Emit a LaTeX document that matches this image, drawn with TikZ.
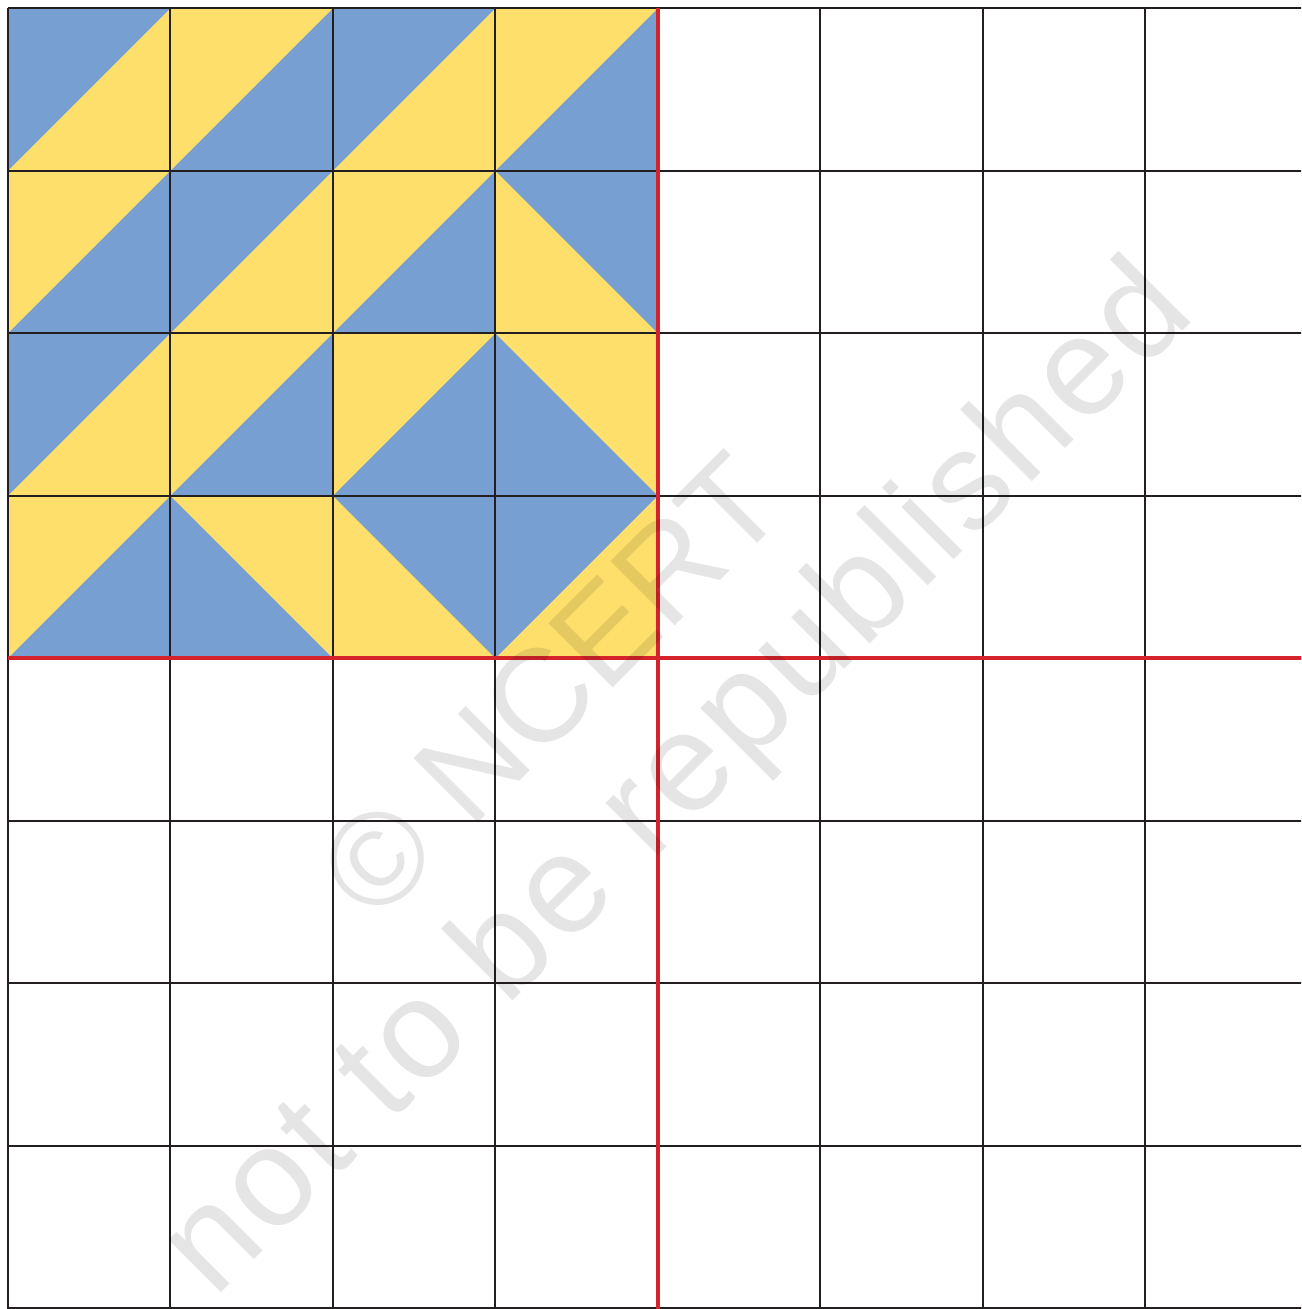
\documentclass[tikz,border=0pt]{standalone}
\usepackage{fontspec}
\newfontfamily\wmcaps{Liberation Sans}
\newfontfamily\wmlower[LetterSpace=3.5]{Liberation Sans}
\definecolor{tileblue}{HTML}{789FD2}
\definecolor{tileyellow}{HTML}{FEDF6B}
\definecolor{gridred}{HTML}{D5232B}
\definecolor{gridblack}{HTML}{231F20}
\begin{document}
\begin{tikzpicture}[x=0.5pt,y=-0.5pt,
  gridline/.style={draw=gridblack,line width=1.15pt,line cap=square},
  redline/.style={draw=gridred,line width=2.15pt},
  watermark/.style={text=black, text opacity=0.1, rotate=45, anchor=base, inner sep=0pt}]
\useasboundingbox (0,0) rectangle (1301,1309);
\clip (0,0) rectangle (1301,1309);
\def\cellsz{162.5}
\def\ox{7.8}
\def\oy{8.3}
% S: diagonal from lower-left to upper-right; first colour = upper-left triangle
% K: diagonal from upper-left to lower-right; first colour = upper-right triangle
\foreach \col/\row/\kind/\ca/\cb in {
  0/0/S/tileblue/tileyellow, 1/0/S/tileyellow/tileblue, 2/0/S/tileblue/tileyellow, 3/0/S/tileyellow/tileblue,
  0/1/S/tileyellow/tileblue, 1/1/S/tileblue/tileyellow, 2/1/S/tileyellow/tileblue, 3/1/K/tileblue/tileyellow,
  0/2/S/tileblue/tileyellow, 1/2/S/tileyellow/tileblue, 2/2/S/tileyellow/tileblue, 3/2/K/tileyellow/tileblue,
  0/3/S/tileyellow/tileblue, 1/3/K/tileyellow/tileblue, 2/3/K/tileblue/tileyellow, 3/3/S/tileblue/tileyellow} {
  \pgfmathsetmacro\X{\ox+\col*\cellsz}
  \pgfmathsetmacro\Y{\oy+\row*\cellsz}
  \fill[\cb] (\X,\Y) rectangle ++(\cellsz,\cellsz);
  \if\kind S
    \fill[\ca] (\X,\Y) -- ++(\cellsz,0) -- ++(-\cellsz,\cellsz) -- cycle;
  \else
    \fill[\ca] (\X,\Y) -- ++(\cellsz,0) -- ++(0,\cellsz) -- cycle;
  \fi
}
\foreach \i in {0,...,8} {
  \draw[gridline] ({\ox+\i*\cellsz},\oy) -- ({\ox+\i*\cellsz},1320);
  \draw[gridline] (\ox,{\oy+\i*\cellsz}) -- (1320,{\oy+\i*\cellsz});
}
\draw[redline] ({\ox+4*\cellsz},\oy) -- ({\ox+4*\cellsz},1320);
\draw[redline] (\ox,{\oy+4*\cellsz}) -- (1320,{\oy+4*\cellsz});
\node[watermark, font=\wmcaps\fontsize{66}{79}\selectfont] (wm1) at (583,718) {© NCERT};
\node[watermark, font=\wmlower\fontsize{70}{84}\selectfont] (wm2) at (706,808) {not to be republished};
\end{tikzpicture}
\end{document}
